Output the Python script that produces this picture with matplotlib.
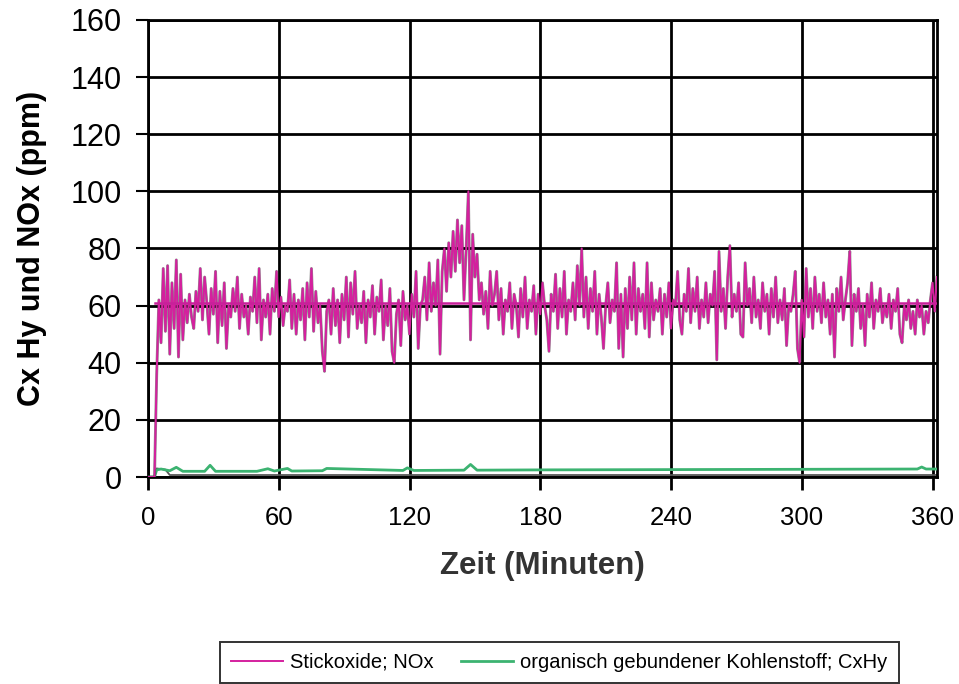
import matplotlib
matplotlib.use("Agg")
import matplotlib.pyplot as plt
import numpy as np

plt.rcParams['font.family'] = ['Liberation Sans', 'DejaVu Sans']

# NOx (ppm), one value per minute
nox = [
    0, 0, 0, 0, 36, 62, 47, 73, 51, 74,
    43, 68, 52, 76, 42, 71, 48, 62, 54, 64,
    56, 52, 65, 58, 73, 55, 70, 61, 50, 66,
    57, 72, 47, 65, 53, 68, 45, 60, 56, 66,
    58, 70, 52, 64, 56, 60, 50, 63, 58, 70,
    54, 73, 48, 62, 56, 64, 50, 66, 58, 72,
    56, 63, 53, 60, 58, 69, 52, 64, 50, 62,
    55, 66, 48, 68, 56, 73, 51, 65, 54, 60,
    44, 37, 58, 62, 50, 66, 53, 62, 47, 64,
    55, 70, 49, 68, 57, 72, 52, 60, 54, 65,
    47, 62, 56, 67, 50, 63, 58, 69, 48, 60,
    53, 66, 44, 40, 57, 62, 46, 65, 55, 60,
    50, 64, 56, 72, 45, 60, 62, 70, 55, 75,
    58, 68, 60, 76, 43, 72, 80, 65, 82, 70,
    86, 72, 90, 75, 88, 62, 80, 100, 48, 85,
    70, 78, 62, 68, 57, 65, 52, 72, 60, 64,
    72, 55, 66, 50, 62, 58, 68, 52, 64, 60,
    49, 66, 56, 70, 52, 62, 58, 67, 50, 64,
    57, 68, 60, 55, 44, 64, 58, 71, 52, 66,
    56, 72, 50, 62, 58, 68, 55, 74, 60, 80,
    56, 70, 52, 66, 58, 72, 50, 64, 56, 45,
    60, 68, 54, 62, 58, 75, 45, 64, 42, 66,
    52, 70, 55, 75, 50, 66, 58, 64, 52, 75,
    49, 68, 55, 62, 58, 66, 50, 64, 56, 68,
    52, 62, 60, 72, 55, 50, 64, 58, 73, 54,
    66, 58, 70, 52, 62, 56, 68, 54, 64, 60,
    72, 41, 79, 58, 66, 52, 70, 81, 56, 64,
    58, 68, 50, 49, 75, 60, 66, 54, 70, 56,
    62, 52, 68, 58, 64, 50, 66, 56, 70, 54,
    62, 55, 66, 46, 60, 58, 64, 72, 45, 40,
    62, 49, 73, 56, 66, 52, 70, 58, 64, 54,
    68, 56, 62, 50, 64, 42, 66, 58, 70, 55,
    62, 68, 79, 46, 64, 58, 66, 52, 60, 46,
    64, 56, 68, 52, 62, 58, 66, 54, 60, 56,
    64, 52, 62, 58, 66, 50, 47, 60, 55, 62,
    52, 58, 50, 62, 56, 60, 50, 58, 54, 62,
    68, 58, 70,
]
nox_t = np.arange(len(nox))
nox_mean = 61

# CxHy (ppm)
cxhy_t = [0, 3, 4, 6, 10, 13, 16, 26, 28.5, 31, 50, 55, 58, 64, 66, 80, 82,
          117, 119, 122, 145, 148, 151, 180, 240, 300, 353, 355, 357, 362]
cxhy = [0, 0, 2.5, 2.8, 2.2, 3.4, 2.0, 2.0, 4.1, 2.0, 2.0, 2.9, 2.1, 3.0, 2.1,
        2.2, 3.0, 2.3, 3.2, 2.3, 2.4, 4.4, 2.4, 2.5, 2.6, 2.7, 2.8, 3.5, 2.8, 2.8]

# dark base line
base_t = [0, 3, 4, 8, 10, 362]
base = [0, 0, 3.0, 2.6, 0.7, 0.7]

fig = plt.figure(figsize=(9.59, 6.84), dpi=100)
ax = fig.add_axes([0.1543, 0.3026, 0.8227, 0.6682])

ax.plot(base_t, base, color='#555555', lw=1.3, zorder=2)
ax.plot(cxhy_t, cxhy, color='#3cb371', lw=2.0, zorder=3,
        label='organisch gebundener Kohlenstoff; CxHy')
ax.plot(nox_t, nox, color='#222222', lw=2.1, alpha=0.5, zorder=4)
ax.plot(nox_t, nox, color='#d4209e', lw=1.4, zorder=5, label='Stickoxide; NOx')
ax.plot([3, nox_t[-1]], [nox_mean, nox_mean], color='#c8209a', lw=1.8, zorder=5)

ax.set_xlim(0, 362)
ax.set_ylim(0, 160)
ax.set_xticks(range(0, 361, 60))
ax.set_yticks(range(0, 161, 20))
ax.grid(True, color='black', lw=2.0)
ax.set_axisbelow(True)
for s in ax.spines.values():
    s.set_linewidth(2.0)
ax.tick_params(axis='y', labelsize=22, direction='out', length=9, width=1.5, pad=10)
ax.tick_params(axis='x', labelsize=18.5, direction='out', length=9, width=2.0, pad=12)

ax.set_xlabel('Zeit (Minuten)', fontsize=22.5, fontweight='bold', color='#333333', labelpad=15)
ax.set_ylabel('Cx Hy und NOx (ppm)', fontsize=22, fontweight='bold', labelpad=17)

h, l = ax.get_legend_handles_labels()
leg = fig.legend(h[::-1], l[::-1], loc='upper center', bbox_to_anchor=(0.583, 0.062),
                 ncol=2, fontsize=14.5, frameon=True, fancybox=False,
                 edgecolor='black', handlelength=2.6, handletextpad=0.35,
                 columnspacing=1.35, borderpad=0.55, borderaxespad=0)
leg.get_frame().set_linewidth(1.4)

fig.savefig('out.png', dpi=100)
